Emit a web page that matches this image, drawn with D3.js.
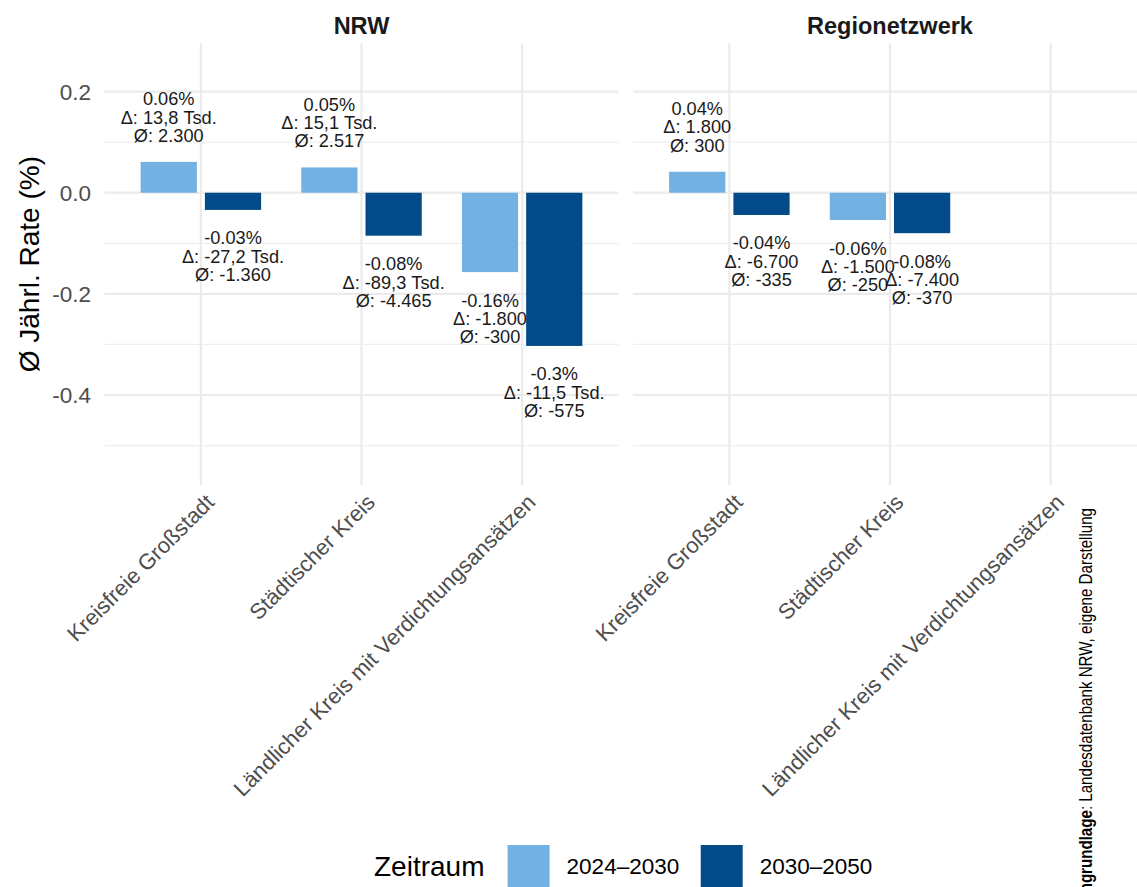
<!DOCTYPE html>
<html>
<head>
<meta charset="utf-8">
<script src="https://cdn.jsdelivr.net/npm/d3@7"></script>
<style>
  html, body { margin: 0; padding: 0; background: #fff; }
  svg { display: block; }
  text { font-family: "Liberation Sans", Arial, sans-serif; }
</style>
</head>
<body>
<svg id="chart" width="1137" height="887"></svg>
<script>
// ---------- data ----------
const categories = ["Kreisfreie Großstadt", "Städtischer Kreis", "Ländlicher Kreis mit Verdichtungsansätzen"];
const periods = ["2024–2030", "2030–2050"];
const panels = ["NRW", "Regionetzwerk"];

// NRW
const nrw2024 = [0.061, 0.050, -0.157];
const nrw2030 = [-0.034, -0.085, -0.303];
const nrwPct2024 = ["0.06%", "0.05%", "-0.16%"];
const nrwPct2030 = ["-0.03%", "-0.08%", "-0.3%"];
const nrwDelta2024 = ["Δ: 13,8 Tsd.", "Δ: 15,1 Tsd.", "Δ: -1.800"];
const nrwDelta2030 = ["Δ: -27,2 Tsd.", "Δ: -89,3 Tsd.", "Δ: -11,5 Tsd."];
const nrwAvg2024 = ["Ø: 2.300", "Ø: 2.517", "Ø: -300"];
const nrwAvg2030 = ["Ø: -1.360", "Ø: -4.465", "Ø: -575"];

// Regionetzwerk (no value for the third category)
const reg2024 = [0.0415, -0.054, null];
const reg2030 = [-0.044, -0.080, null];
const regPct2024 = ["0.04%", "-0.06%", null];
const regPct2030 = ["-0.04%", "-0.08%", null];
const regDelta2024 = ["Δ: 1.800", "Δ: -1.500", null];
const regDelta2030 = ["Δ: -6.700", "Δ: -7.400", null];
const regAvg2024 = ["Ø: 300", "Ø: -250", null];
const regAvg2030 = ["Ø: -335", "Ø: -370", null];

const yTicks = [-0.4, -0.2, 0.0, 0.2];
const yMinor = [-0.5, -0.3, -0.1, 0.1];
const colors = ["#73b1e2", "#034b88"];

// ---------- build rows ----------
function rows(panel, v1, v2, p1, p2, d1, d2, a1, a2) {
  const out = [];
  categories.forEach((c, i) => {
    [[v1, p1, d1, a1], [v2, p2, d2, a2]].forEach((s, k) => {
      if (s[0][i] === null) return;
      out.push({panel, cat: c, period: periods[k], value: s[0][i],
        lines: [s[1][i], s[2][i], s[3][i]]});
    });
  });
  return out;
}
const data = rows("NRW", nrw2024, nrw2030, nrwPct2024, nrwPct2030, nrwDelta2024, nrwDelta2030, nrwAvg2024, nrwAvg2030)
  .concat(rows("Regionetzwerk", reg2024, reg2030, regPct2024, regPct2030, regDelta2024, regDelta2030, regAvg2024, regAvg2030));

// ---------- layout ----------
const svg = d3.select("#chart");
const pTop = 43.3, pBottom = 485;
const panelRanges = {"NRW": [104.5, 618.5], "Regionetzwerk": [633, 1147]};

const y = d3.scaleLinear().domain([-0.578, 0.2955]).range([pBottom, pTop]);
const color = d3.scaleOrdinal().domain(periods).range(colors);

panels.forEach(p => {
  const r = panelRanges[p];
  const x = d3.scalePoint().domain(categories).range(r).padding(0.6);
  const step = x.step();
  const xo = d3.scaleBand().domain(periods).range([-0.4 * step, 0.4 * step]).paddingInner(0.125).paddingOuter(0.0625);
  const g = svg.append("g");
  const clipR = Math.min(r[1], 1137);

  // minor gridlines
  g.selectAll(".minor").data(yMinor).join("line")
    .attr("x1", r[0]).attr("x2", clipR)
    .attr("y1", d => y(d)).attr("y2", d => y(d))
    .attr("stroke", "#efefef").attr("stroke-width", 1.2);
  // major gridlines
  g.selectAll(".major").data(yTicks).join("line")
    .attr("x1", r[0]).attr("x2", clipR)
    .attr("y1", d => y(d)).attr("y2", d => y(d))
    .attr("stroke", "#ebebeb").attr("stroke-width", 2.2);
  g.selectAll(".vgrid").data(categories).join("line")
    .attr("x1", d => x(d)).attr("x2", d => x(d))
    .attr("y1", pTop).attr("y2", pBottom)
    .attr("stroke", "#ebebeb").attr("stroke-width", 2.2);

  const pd = data.filter(d => d.panel === p);
  g.selectAll("rect").data(pd).join("rect")
    .attr("x", d => x(d.cat) + xo(d.period))
    .attr("width", xo.bandwidth())
    .attr("y", d => Math.min(y(d.value), y(0)))
    .attr("height", d => Math.abs(y(d.value) - y(0)))
    .attr("fill", d => color(d.period));

  // labels
  const lh = 18.3;
  pd.forEach(d => {
    const cx = x(d.cat) + xo(d.period) + xo.bandwidth() / 2;
    const first = d.value >= 0 ? y(d.value) - 20 - 2 * lh : y(d.value) + 34.5;
    const t = g.append("text")
      .attr("text-anchor", "middle")
      .attr("font-size", 18.2)
      .attr("fill", "#1a1a1a");
    d.lines.forEach((l, i) => {
      t.append("tspan").attr("x", cx).attr("y", first + i * lh).text(l);
    });
  });

  // strip title
  svg.append("text")
    .attr("x", (r[0] + r[1]) / 2).attr("y", 34)
    .attr("text-anchor", "middle")
    .attr("font-size", 23.5).attr("font-weight", "bold")
    .attr("fill", "#1a1a1a")
    .text(p);

  // x tick labels
  g.selectAll(".xl").data(categories).join("text")
    .attr("transform", d => `translate(${x(d) + 3},${pBottom + 7}) rotate(-45)`)
    .attr("text-anchor", "end")
    .attr("dy", "0.75em")
    .attr("font-size", 22)
    .attr("fill", "#4d4d4d")
    .text(d => d);
});

// y axis tick labels
svg.append("g").selectAll("text").data(yTicks).join("text")
  .attr("x", 91).attr("y", d => y(d))
  .attr("dy", "0.36em")
  .attr("text-anchor", "end")
  .attr("font-size", 22.5)
  .attr("fill", "#4d4d4d")
  .text(d => d3.format(".1f")(d).replace("−", "-"));

// y axis title
svg.append("text")
  .attr("transform", `translate(39,${(pTop + pBottom) / 2}) rotate(-90)`)
  .attr("text-anchor", "middle")
  .attr("font-size", 28)
  .attr("fill", "#000")
  .text("Ø Jährl. Rate (%)");

// legend
const lg = svg.append("g");
lg.append("text").attr("x", 374).attr("y", 876).attr("font-size", 28).attr("fill", "#000").text("Zeitraum");
const keyX = [507.6, 700.7];
periods.forEach((p, i) => {
  lg.append("rect").attr("x", keyX[i]).attr("y", 845).attr("width", 42).attr("height", 42).attr("fill", color(p));
  lg.append("text").attr("x", keyX[i] + 59).attr("y", 874).attr("font-size", 22.5).attr("fill", "#000").text(p);
});

// caption (rotated, condensed, partly cut off at the bottom edge as in the reference)
const cap = svg.append("text")
  .attr("transform", "translate(1092,508) rotate(-90) scale(0.84,1)")
  .attr("text-anchor", "end")
  .attr("font-size", 18)
  .attr("fill", "#000");
cap.append("tspan").attr("font-weight", "bold").text("Datengrundlage");
cap.append("tspan").text(": Landesdatenbank NRW, eigene Darstellung");
</script>
</body>
</html>
